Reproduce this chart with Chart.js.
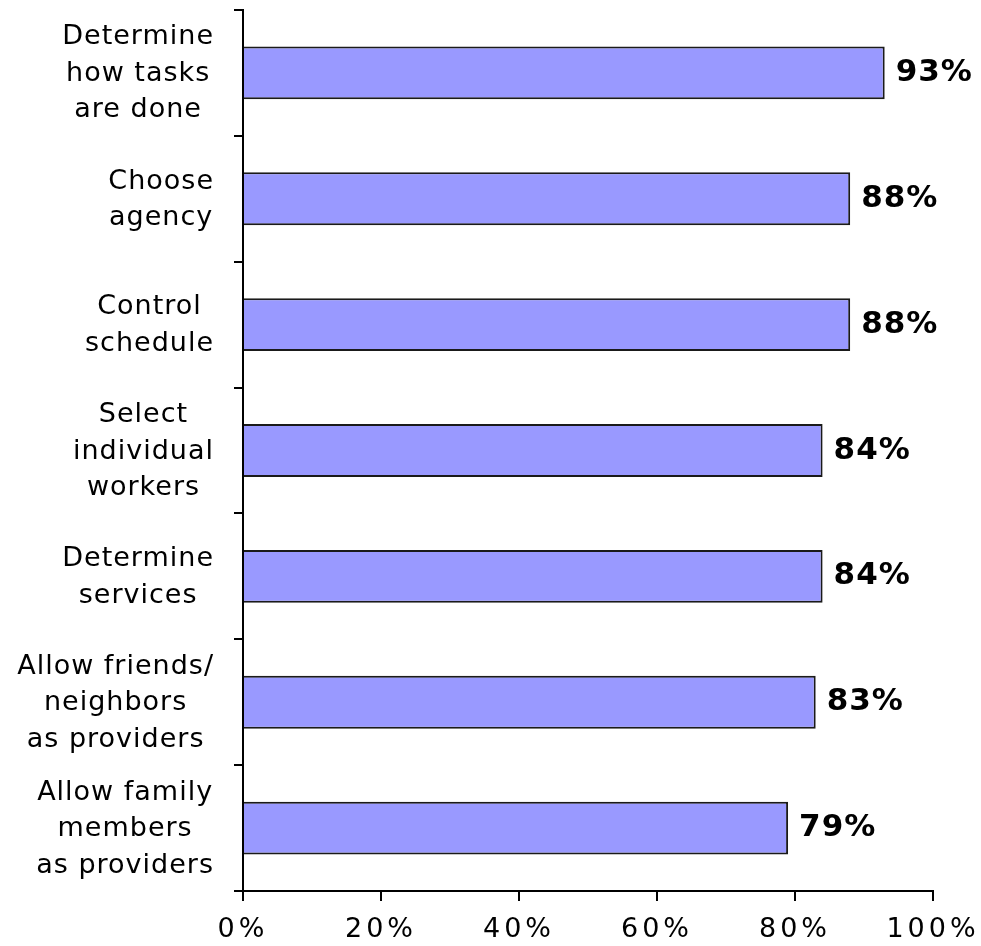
<!DOCTYPE html>
<html>
<head>
<meta charset="utf-8">
<script src="https://cdn.jsdelivr.net/npm/chart.js@4"></script>
<style>
  html, body { margin: 0; padding: 0; background: #fff; }
  #wrap { width: 981px; height: 946px; }
</style>
</head>
<body>
<div id="wrap"><canvas id="c" width="981" height="946"></canvas></div>
<script>
// Share of respondents for each consumer-direction feature
const categories = [
  ["Determine", "how tasks", "are done"],
  ["Choose", "agency"],
  ["Control", "schedule"],
  ["Select", "individual", "workers"],
  ["Determine", "services"],
  ["Allow friends/", "neighbors", "as providers"],
  ["Allow family", "members", "as providers"]
];
const values = [93, 88, 88, 84, 84, 83, 79];
const xTicks = [0, 20, 40, 60, 80, 100];

const FONT = '"DejaVu Sans", sans-serif';

// Multi-line category labels: each block sits left of the axis,
// lines centred within the block. Value labels follow each bar end.
const labelPlugin = {
  id: 'categoryAndValueLabels',
  beforeDraw(chart) {
    chart.ctx.letterSpacing = '4px';
  },
  afterDraw(chart) {
    const { ctx, scales: { y } } = chart;
    const area = chart.chartArea;
    ctx.save();
    ctx.fillStyle = '#000';
    ctx.textBaseline = 'middle';
    ctx.textAlign = 'left';

    const sp = 1;
    ctx.font = '27px ' + FONT;
    ctx.letterSpacing = sp + 'px';
    const lineH = 36.5;
    const rightEdge = area.left - 30;
    categories.forEach((lines, i) => {
      const cy = y.getPixelForValue(i) + 1;
      const widths = lines.map(l => ctx.measureText(l).width - sp);
      const maxW = Math.max(...widths);
      const mid = rightEdge - maxW / 2;
      lines.forEach((l, j) => {
        const ly = cy + (j - (lines.length - 1) / 2) * lineH;
        ctx.fillText(l, mid - widths[j] / 2, ly);
      });
    });

    ctx.font = 'bold 31px ' + FONT;
    ctx.letterSpacing = '1px';
    const meta = chart.getDatasetMeta(0);
    meta.data.forEach((bar, i) => {
      ctx.fillText(values[i] + '%', bar.x + 11, bar.y);
    });
    ctx.restore();
  }
};

new Chart(document.getElementById('c'), {
  type: 'bar',
  data: {
    labels: categories,
    datasets: [{
      data: values,
      backgroundColor: '#9999FF',
      borderColor: '#1a1a1a',
      borderWidth: 2,
      barPercentage: 0.42,
      categoryPercentage: 1.0
    }]
  },
  options: {
    indexAxis: 'y',
    responsive: false,
    animation: false,
    devicePixelRatio: 1,
    layout: { padding: { top: 10, right: 48, left: 0, bottom: 0 } },
    plugins: {
      legend: { display: false },
      tooltip: { enabled: false }
    },
    scales: {
      x: {
        type: 'linear',
        min: 0,
        max: 100,
        afterBuildTicks: s => { s.ticks = xTicks.map(v => ({ value: v })); },
        afterFit: s => {
          s.height = 55;
          s.paddingLeft = 0;
          s.paddingRight = 0;
        },
        border: { display: true, color: '#000', width: 2 },
        grid: {
          drawOnChartArea: false,
          drawTicks: true,
          tickLength: 10,
          color: '#000',
          lineWidth: 2
        },
        ticks: {
          autoSkip: false,
          maxRotation: 0,
          padding: 13,
          color: '#000',
          font: { family: FONT, size: 27 },
          callback: v => v + '%'
        }
      },
      y: {
        type: 'category',
        afterFit: s => {
          s.width = 243;
          s.paddingTop = 0;
          s.paddingBottom = 0;
        },
        border: { display: true, color: '#000', width: 2 },
        grid: {
          offset: true,
          drawOnChartArea: false,
          drawTicks: true,
          tickLength: 9,
          color: '#000',
          lineWidth: 2
        },
        ticks: { display: false }
      }
    }
  },
  plugins: [labelPlugin]
});
</script>
</body>
</html>
